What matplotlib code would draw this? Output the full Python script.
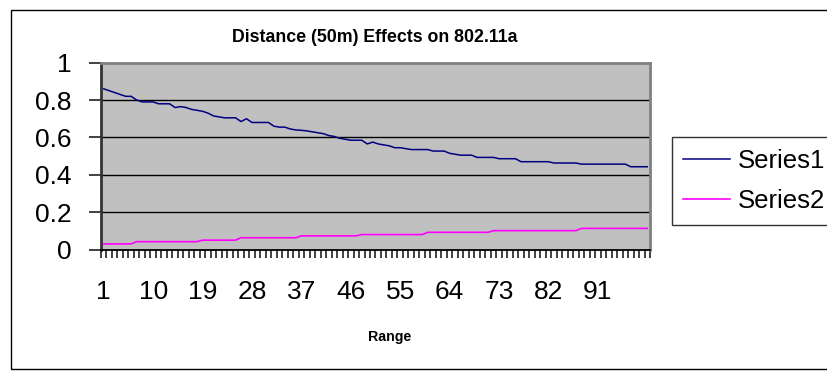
import numpy as np
import matplotlib
matplotlib.use("Agg")
import matplotlib.pyplot as plt
from matplotlib.patches import Rectangle

plt.rcParams['font.family'] = ['Liberation Sans', 'DejaVu Sans']

# --- Dati ---
categories = list(range(1, 101))

series1 = [
    0.86, 0.85, 0.84, 0.83, 0.82, 0.82, 0.80, 0.79, 0.79, 0.79,
    0.78, 0.78, 0.78, 0.76, 0.765, 0.76, 0.75, 0.745, 0.74, 0.73,
    0.715, 0.71, 0.705, 0.705, 0.705, 0.685, 0.70, 0.68, 0.68, 0.68,
    0.68, 0.66, 0.655, 0.655, 0.645, 0.64, 0.638, 0.635, 0.63, 0.625,
    0.62, 0.61, 0.605, 0.595, 0.59, 0.585, 0.585, 0.585, 0.565, 0.575,
    0.565, 0.56, 0.555, 0.545, 0.545, 0.54, 0.535, 0.535, 0.535, 0.535,
    0.527, 0.527, 0.527, 0.515, 0.51, 0.505, 0.505, 0.505, 0.493, 0.493,
    0.493, 0.493, 0.486, 0.486, 0.486, 0.486, 0.47, 0.47, 0.47, 0.47,
    0.47, 0.47, 0.463, 0.463, 0.463, 0.463, 0.463, 0.457, 0.457, 0.457,
    0.457, 0.457, 0.457, 0.457, 0.457, 0.457, 0.443, 0.443, 0.443, 0.443,
]

series2 = (
    [0.03] * 6 + [0.042] * 12 + [0.05] * 7 + [0.063] * 11 + [0.073] * 11
    + [0.08] * 12 + [0.092] * 12 + [0.101] * 16 + [0.113] * 13
)

xtick_pos = [1, 10, 19, 28, 37, 46, 55, 64, 73, 82, 91]
xtick_labels = [str(c) for c in xtick_pos]
yticks = [0, 0.2, 0.4, 0.6, 0.8, 1]
ytick_labels = ["0", "0.2", "0.4", "0.6", "0.8", "1"]

W, H = 827, 375
fig = plt.figure(figsize=(W / 100, H / 100), dpi=100)

# bordo esterno dell'area del grafico (a destra esce dall'immagine)
fig.patches.append(Rectangle((11 / W, 1 - 369 / H), 830 / W, 359 / H,
                             transform=fig.transFigure, fill=False,
                             edgecolor='black', linewidth=1.0))

ax = fig.add_axes([101 / W, 1 - 249.5 / H, 549 / W, 186.8 / H])
ax.set_facecolor('#C0C0C0')

ax.plot(categories, series1, color='#000080', linewidth=1.1, label='Series1')
ax.plot(categories, series2, color='#FF00FF', linewidth=1.2, label='Series2')

ax.set_xlim(0.5, 100.5)
ax.set_ylim(0, 1)

# griglia orizzontale
for yv in yticks[1:-1]:
    ax.axhline(yv, color='black', linewidth=1.0, zorder=1)

ax.set_yticks(yticks)
ax.set_yticklabels(ytick_labels, fontsize=19)
ax.tick_params(axis='y', direction='out', length=9, width=1.3,
               color='#333333', pad=12)

ax.set_xticks(xtick_pos)
ax.set_xticklabels(xtick_labels, fontsize=19)
ax.set_xticks(np.arange(0.5, 101, 1), minor=True)
ax.tick_params(axis='x', which='major', length=0, pad=22)
ax.tick_params(axis='x', which='minor', direction='out', length=6,
               width=1.3, color='#333333')

ax.spines['left'].set_color('#333333')
ax.spines['left'].set_linewidth(2)
ax.spines['bottom'].set_color('black')
ax.spines['bottom'].set_linewidth(1.3)
ax.spines['top'].set_color('#808080')
ax.spines['top'].set_linewidth(2)
ax.spines['right'].set_color('#808080')
ax.spines['right'].set_linewidth(2)

fig.text(375 / W, 1 - 38 / H, 'Distance (50m) Effects on 802.11a',
         ha='center', va='center', fontsize=12.8, fontweight='bold')
fig.text(390 / W, 1 - 337 / H, 'Range', ha='center', va='center',
         fontsize=10.2, fontweight='bold')

leg = ax.legend(loc='upper left', bbox_to_anchor=(671.5 / W, 1 - 137 / H),
                bbox_transform=fig.transFigure, fontsize=18.5,
                frameon=True, fancybox=False, shadow=False,
                handlelength=1.83, handletextpad=0.31, borderpad=0.45,
                labelspacing=0.65, borderaxespad=0)
leg.get_frame().set_edgecolor('black')
leg.get_frame().set_linewidth(1.0)

fig.savefig('out.png', dpi=100)
